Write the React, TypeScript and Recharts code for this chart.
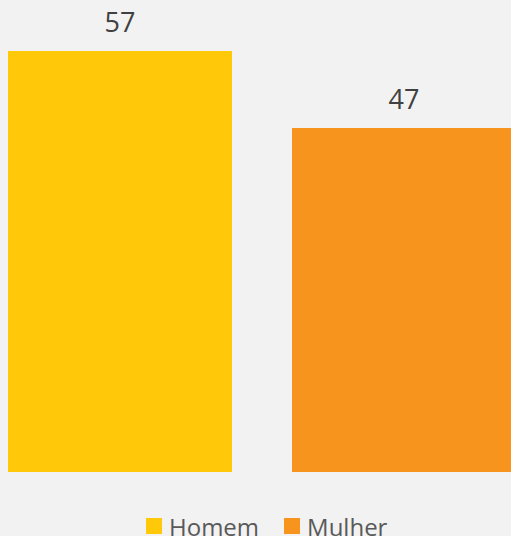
import React from 'react';
import { BarChart, Bar, XAxis, YAxis, LabelList } from 'recharts';

const categories = ['Sexo'];
const homemValues = [57];
const mulherValues = [47];
const seriesNames = ['Homem', 'Mulher'];
const seriesColors = ['#FFC90A', '#F7941E'];

const data = categories.map((c, i) => ({
  name: c,
  Homem: homemValues[i],
  Mulher: mulherValues[i],
}));

const FONT = '"Open Sans", "Noto Sans", sans-serif';

const App: React.FC = () => {
  return (
    <div
      style={{
        position: 'absolute',
        left: 0,
        top: 0,
        width: 511,
        height: 536,
        overflow: 'hidden',
        background: '#F2F2F2',
      }}
    >
      <BarChart
        width={521}
        height={536}
        data={data}
        margin={{ top: 51, right: 4, left: 7, bottom: 64 }}
        barGap={60}
        barCategoryGap={0}
      >
        <XAxis dataKey="name" hide />
        <YAxis hide domain={[2.3, 57]} />
        {seriesNames.map((n, i) => (
          <Bar key={n} dataKey={n} fill={seriesColors[i]} barSize={224} isAnimationActive={false}>
            <LabelList
              dataKey={n}
              position="top"
              offset={19}
              style={{ fontFamily: FONT, fontSize: 27, fill: '#404040' }}
            />
          </Bar>
        ))}
      </BarChart>
      {/* legend */}
      <div
        style={{
          position: 'absolute',
          left: 146,
          top: 510,
          height: 32,
          display: 'flex',
          alignItems: 'center',
          fontFamily: FONT,
          fontSize: 24,
          color: '#595959',
          whiteSpace: 'nowrap',
        }}
      >
        {seriesNames.map((n, i) => (
          <div key={n} style={{ display: 'flex', alignItems: 'center', marginRight: i === 0 ? 25 : 0 }}>
            <span style={{ width: 16, height: 16, background: seriesColors[i], display: 'inline-block', marginRight: 7 }} />
            <span>{n}</span>
          </div>
        ))}
      </div>
    </div>
  );
};

export default App;
